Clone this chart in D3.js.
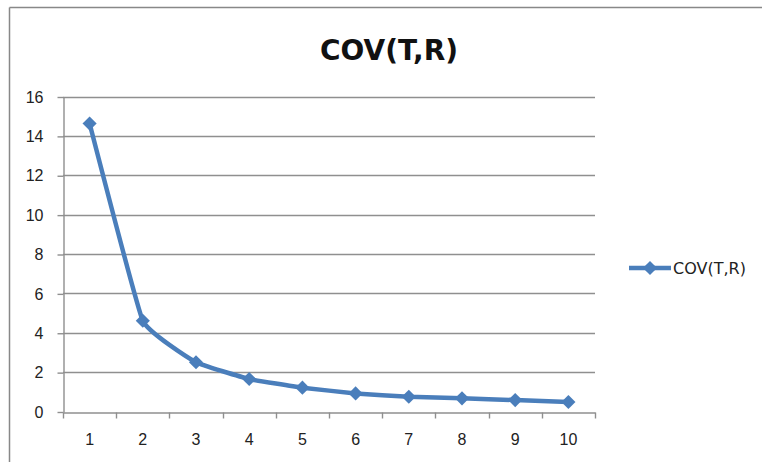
<!DOCTYPE html>
<html>
<head>
<meta charset="utf-8">
<title>COV(T,R)</title>
<style>
  body { margin: 0; background: #fff; }
  svg { display: block; font-family: "DejaVu Sans", sans-serif; }
</style>
</head>
<body>
<svg width="762" height="462"></svg>
<script src="https://d3js.org/d3.v7.min.js"></script>
<script>
// data
var categories = ["1", "2", "3", "4", "5", "6", "7", "8", "9", "10"];
var covValues = [14.63, 4.61, 2.5, 1.65, 1.21, 0.92, 0.75, 0.67, 0.58, 0.48];
var yTicks = [0, 2, 4, 6, 8, 10, 12, 14, 16];
var seriesName = "COV(T,R)";

var svg = d3.select("svg");
var lineColor = "#4a7ebb";
var axisColor = "#8f8f8f";

// chart frame (only top + left edges are in view)
svg.append("line").attr("x1", 9.5).attr("y1", 7.5).attr("x2", 762).attr("y2", 7.5)
  .attr("stroke", "#888").attr("stroke-width", 1.5);
svg.append("line").attr("x1", 9.5).attr("y1", 7.5).attr("x2", 9.5).attr("y2", 462)
  .attr("stroke", "#888").attr("stroke-width", 1.5);

var plot = { left: 63, right: 595, top: 96.5, bottom: 411.5 };

var x = d3.scaleBand()
  .domain(categories)
  .range([plot.left, plot.right]);

var y = d3.scaleLinear()
  .domain([0, 16])
  .range([plot.bottom, plot.top]);

// gridlines
svg.append("g")
  .selectAll("line")
  .data(yTicks.filter(function(d) { return d > 0; }))
  .enter().append("line")
  .attr("x1", plot.left)
  .attr("x2", plot.right)
  .attr("y1", function(d) { return Math.round(y(d)) + 0.5; })
  .attr("y2", function(d) { return Math.round(y(d)) + 0.5; })
  .attr("stroke", axisColor)
  .attr("stroke-width", 1.4);

// y axis
var yAxis = svg.append("g")
  .attr("transform", "translate(" + (plot.left + 0.5) + ",0.5)")
  .call(d3.axisLeft(y).tickValues(yTicks).tickSize(6).tickPadding(14).tickSizeOuter(0));

// x axis
var xAxis = svg.append("g")
  .attr("transform", "translate(0," + (Math.round(plot.bottom) + 0.5) + ")")
  .call(d3.axisBottom(x).tickSize(0).tickPadding(21).tickSizeOuter(0));

// x tick marks sit on the band edges
svg.append("g")
  .selectAll("line")
  .data(d3.range(categories.length + 1))
  .enter().append("line")
  .attr("x1", function(i) { return Math.round(plot.left + i * x.step()) + 0.5; })
  .attr("x2", function(i) { return Math.round(plot.left + i * x.step()) + 0.5; })
  .attr("y1", Math.round(plot.bottom) + 0.5)
  .attr("y2", Math.round(plot.bottom) + 6.5)
  .attr("stroke", axisColor)
  .attr("stroke-width", 1.4);

[yAxis, xAxis].forEach(function(ax) {
  ax.selectAll(".domain").attr("stroke", axisColor).attr("stroke-width", 1.4);
  ax.selectAll(".tick line").attr("stroke", axisColor).attr("stroke-width", 1.4);
  ax.selectAll("text")
    .attr("fill", "#222")
    .style("font-size", "16px");
});

// line (Excel-style, almost straight)
var line = d3.line()
  .x(function(d, i) { return x(categories[i]) + x.bandwidth() / 2; })
  .y(function(d) { return y(d); })
  .curve(d3.curveCardinal.tension(0.7));

svg.append("path")
  .datum(covValues)
  .attr("fill", "none")
  .attr("stroke", lineColor)
  .attr("stroke-width", 4.5)
  .attr("stroke-linejoin", "round")
  .attr("d", line);

var diamond = d3.symbol().type(d3.symbolSquare).size(100);

svg.append("g")
  .selectAll("path")
  .data(covValues)
  .enter().append("path")
  .attr("d", diamond)
  .attr("transform", function(d, i) {
    return "translate(" + (x(categories[i]) + x.bandwidth() / 2) + "," + y(d) + ") rotate(45)";
  })
  .attr("fill", lineColor);

// title
svg.append("text")
  .attr("x", 389)
  .attr("y", 60)
  .attr("text-anchor", "middle")
  .style("font-size", "28px")
  .style("font-weight", "bold")
  .attr("fill", "#111")
  .text(seriesName);

// legend
var legend = svg.append("g").attr("transform", "translate(629,268)");
legend.append("line")
  .attr("x1", 0).attr("x2", 42).attr("y1", 0).attr("y2", 0)
  .attr("stroke", lineColor).attr("stroke-width", 4.5);
legend.append("path")
  .attr("d", diamond)
  .attr("transform", "translate(21,0) rotate(45)")
  .attr("fill", lineColor);
legend.append("text")
  .attr("x", 44)
  .attr("y", 6)
  .style("font-size", "16px")
  .attr("fill", "#222")
  .text(seriesName);
</script>
</body>
</html>
